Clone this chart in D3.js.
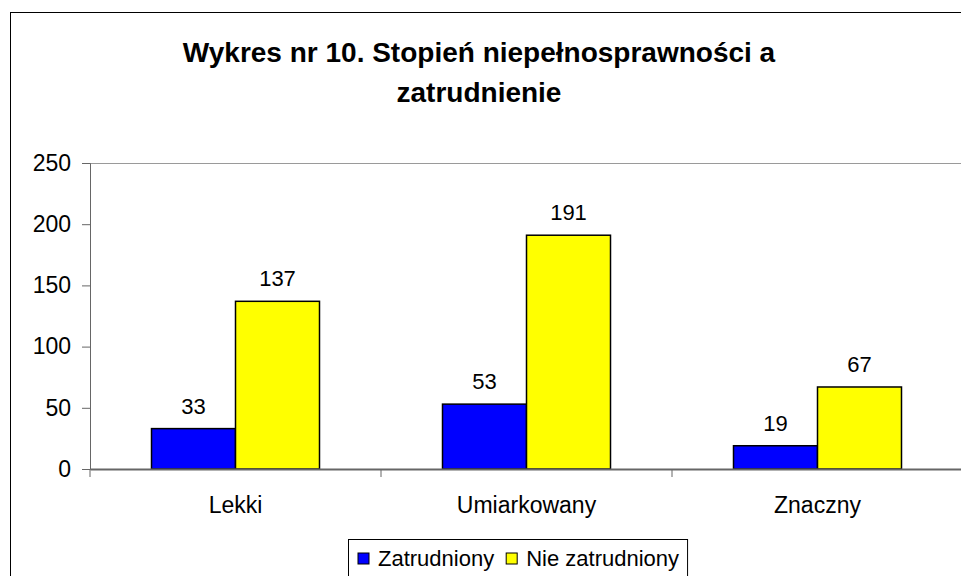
<!DOCTYPE html>
<html>
<head>
<meta charset="utf-8">
<script src="https://cdn.jsdelivr.net/npm/d3@7"></script>
<style>
  body { margin: 0; background: #fff; }
  text { font-family: "Liberation Sans", Arial, sans-serif; fill: #000; }
</style>
</head>
<body>
<div id="chart"></div>
<script>
// chart values
var categories = ["Lekki", "Umiarkowany", "Znaczny"];
var seriesNames = ["Zatrudniony", "Nie zatrudniony"];
var zatrudniony = [33, 53, 19];
var nieZatrudniony = [137, 191, 67];
var yTicks = [0, 50, 100, 150, 200, 250];
var colors = ["#0000ff", "#ffff00"];

function main() {
    var width = 961, height = 576;
    var margin = { top: 163, left: 90, bottom: 107 };
    var plotW = 873;
    var plotH = height - margin.top - margin.bottom;

    var svg = d3.select("#chart")
        .append("svg")
        .attr("width", width)
        .attr("height", height);

    // outer chart frame (runs off the right and bottom edges)
    svg.append("rect")
        .attr("x", 10.5).attr("y", 12.5)
        .attr("width", 1000).attr("height", 1000)
        .attr("fill", "none")
        .attr("stroke", "#000")
        .attr("stroke-width", 1);

    // title
    var title = svg.append("text")
        .attr("text-anchor", "middle")
        .attr("font-size", "28px")
        .attr("font-weight", "bold");
    title.append("tspan").attr("x", 479).attr("y", 62)
        .text("Wykres nr 10. Stopień niepełnosprawności a");
    title.append("tspan").attr("x", 479).attr("y", 102)
        .text("zatrudnienie");

    var g = svg.append("g")
        .attr("transform", "translate(" + margin.left + "," + margin.top + ")");

    var x = d3.scaleBand()
        .domain(categories)
        .range([0, plotW]);
    var x1 = d3.scaleBand()
        .domain(seriesNames)
        .range([0, 168]);
    var y = d3.scaleLinear()
        .domain([0, 250])
        .range([plotH, 0]);

    // plot area top border
    g.append("line")
        .attr("x1", 0).attr("x2", plotW + 20)
        .attr("y1", 0.5).attr("y2", 0.5)
        .attr("stroke", "#9a9a9a");

    // y axis
    var yAxis = g.append("g")
        .call(d3.axisLeft(y).tickValues(yTicks).tickSize(8).tickPadding(11));
    yAxis.select(".domain").attr("stroke", "#666");
    yAxis.selectAll(".tick line").attr("stroke", "#666");
    yAxis.selectAll("text").attr("font-size", "23px").attr("font-family", "Liberation Sans, Arial, sans-serif").attr("fill", "#000");

    // bars
    var rows = categories.map(function (c, i) {
        return { cat: c, values: [zatrudniony[i], nieZatrudniony[i]] };
    });
    var groups = g.selectAll(".grp")
        .data(rows)
        .enter()
        .append("g")
        .attr("transform", function (d) {
            return "translate(" + (x(d.cat) + (x.bandwidth() - 168) / 2) + ",0)";
        });
    groups.selectAll("rect")
        .data(function (d) { return d.values.map(function (v, j) { return { s: seriesNames[j], v: v, j: j }; }); })
        .enter()
        .append("rect")
        .attr("x", function (d) { return x1(d.s); })
        .attr("width", x1.bandwidth())
        .attr("y", function (d) { return y(d.v); })
        .attr("height", function (d) { return y(0) - y(d.v); })
        .attr("fill", function (d) { return colors[d.j]; })
        .attr("stroke", "#000")
        .attr("stroke-width", 1.5);
    groups.selectAll(".lbl")
        .data(function (d) { return d.values.map(function (v, j) { return { s: seriesNames[j], v: v }; }); })
        .enter()
        .append("text")
        .attr("x", function (d) { return x1(d.s) + x1.bandwidth() / 2; })
        .attr("y", function (d) { return y(d.v) - 15; })
        .attr("text-anchor", "middle")
        .attr("font-size", "22px")
        .text(function (d) { return d.v; });

    // x axis
    var xAxis = g.append("g")
        .attr("transform", "translate(0," + plotH + ")")
        .call(d3.axisBottom(x).tickSize(0).tickPadding(28));
    xAxis.select(".domain").attr("stroke", "#666").attr("stroke-width", 2);
    xAxis.selectAll("text").attr("font-size", "23px").attr("font-family", "Liberation Sans, Arial, sans-serif").attr("fill", "#000");
    xAxis.selectAll(".sep")
        .data([0, 1, 2, 3])
        .enter()
        .append("line")
        .attr("x1", function (i) { return i * x.step(); })
        .attr("x2", function (i) { return i * x.step(); })
        .attr("y1", 0).attr("y2", 8)
        .attr("stroke", "#666");

    // legend
    var lg = svg.append("g").attr("transform", "translate(348,539)");
    var box = lg.append("rect")
        .attr("x", 0.5).attr("y", 0.5)
        .attr("height", 60)
        .attr("fill", "#fff")
        .attr("stroke", "#000");
    var cx = 10;
    seriesNames.forEach(function (s, i) {
        lg.append("rect")
            .attr("x", cx).attr("y", 14)
            .attr("width", 11).attr("height", 11)
            .attr("fill", colors[i])
            .attr("stroke", "#000");
        var t = lg.append("text")
            .attr("x", cx + 20).attr("y", 27)
            .attr("font-size", "22px")
            .text(s);
        cx += 20 + t.node().getComputedTextLength() + 12;
    });
    box.attr("width", cx - 4);
}
window.addEventListener('load', main);
</script>
</body>
</html>
